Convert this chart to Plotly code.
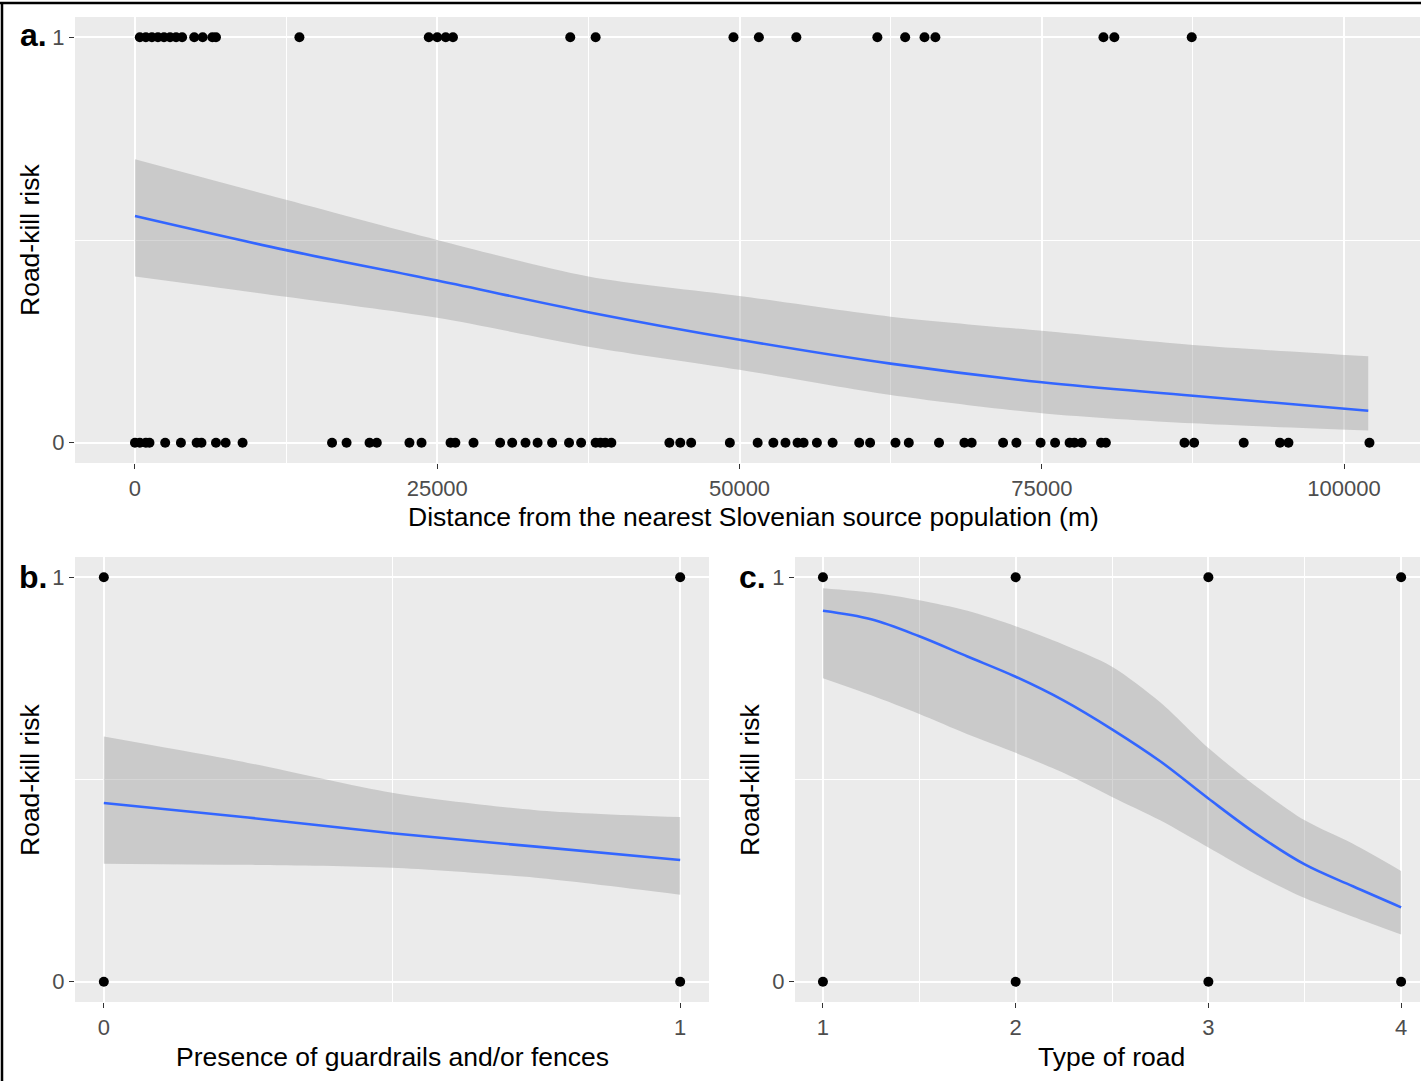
import plotly.graph_objects as go

W, H = 1421, 1081

# ---------------- data ----------------
# Panel a: observed points (distance in m)
a_dist_killed = [400, 900, 1400, 1900, 2400, 2900, 3400, 3900, 4900, 5600, 6400, 6700,
                 13600, 24300, 25000, 25700, 26300, 36000, 38100, 49500, 51600, 54700,
                 61400, 63700, 65300, 66200, 80100, 81000, 87400]
a_dist_notkilled = [0, 400, 900, 1200, 2500, 3800, 5100, 5500, 6700, 7500, 8900,
                    16300, 17500, 19400, 20000, 22700, 23700, 26100, 26500, 28000,
                    30200, 31200, 32300, 33300, 34500, 35900, 36900, 38100, 38500, 38900, 39400,
                    44200, 45100, 46000, 49200, 51500, 52800, 53800, 54800, 55300, 56400,
                    57700, 59900, 60800, 62900, 64000, 66500, 68600, 69200, 71800, 72900,
                    74900, 76100, 77300, 77700, 78300, 79900, 80300, 86800, 87600, 91700,
                    94700, 95400, 102100]
# Panel a: fitted curve and 95% band
a_x = [0, 12500, 25000, 37500, 50000, 62500, 75000, 87500, 102000]
a_fit = [0.559, 0.475, 0.400, 0.322, 0.254, 0.195, 0.149, 0.116, 0.079]
a_upper = [0.699, 0.599, 0.500, 0.410, 0.362, 0.311, 0.276, 0.241, 0.213]
a_lower = [0.410, 0.360, 0.308, 0.237, 0.180, 0.118, 0.073, 0.048, 0.030]

# Panel b: guardrails / fences (0/1)
b_pts_x = [0, 0, 1, 1]
b_pts_y = [0, 1, 0, 1]
b_x = [0, 0.25, 0.5, 0.75, 1]
b_fit = [0.442, 0.406, 0.367, 0.334, 0.301]
b_upper = [0.606, 0.541, 0.467, 0.424, 0.407]
b_lower = [0.292, 0.289, 0.282, 0.257, 0.215]

# Panel c: type of road
c_pts_x = [1, 2, 3, 4, 1, 2, 3, 4]
c_pts_y = [1, 1, 1, 1, 0, 0, 0, 0]
c_x = [1, 1.25, 1.5, 1.75, 2, 2.25, 2.5, 2.75, 3, 3.25, 3.5, 3.75, 4]
c_fit = [0.917, 0.896, 0.854, 0.804, 0.754, 0.695, 0.624, 0.545, 0.453, 0.365, 0.290, 0.236, 0.184]
c_upper = [0.973, 0.962, 0.943, 0.917, 0.879, 0.833, 0.779, 0.691, 0.578, 0.482, 0.399, 0.341, 0.274]
c_lower = [0.750, 0.708, 0.662, 0.612, 0.566, 0.516, 0.457, 0.399, 0.332, 0.265, 0.207, 0.161, 0.117]

a_xticks = [0, 25000, 50000, 75000, 100000]
a_xminor = [12500, 37500, 62500, 87500]
b_xticks = [0, 1]
b_xminor = [0.5]
c_xticks = [1, 2, 3, 4]
c_xminor = [1.5, 2.5, 3.5]
y_ticks = [0, 1]
y_minor = [0.5]

panel_labels = ["a.", "b.", "c."]
x_titles = ["Distance from the nearest Slovenian source population (m)",
            "Presence of guardrails and/or fences",
            "Type of road"]
y_title = "Road-kill risk"

# ---------------- styling ----------------
FONT = "Liberation Sans, Arial, sans-serif"
BAND = "rgba(153,153,153,0.4)"
LINE = "#3366FF"

def px_x(p):
    return p / W

def px_y(p):
    return 1 - p / H

fig = go.Figure()

def add_panel(fig, idx, pts_x, pts_y, cx, fit, up, lo):
    xa = "x" if idx == 1 else f"x{idx}"
    ya = "y" if idx == 1 else f"y{idx}"
    fig.add_trace(go.Scatter(x=pts_x, y=pts_y, mode="markers",
                             marker=dict(color="black", size=10),
                             xaxis=xa, yaxis=ya, showlegend=False, hoverinfo="skip"))
    fig.add_trace(go.Scatter(x=cx, y=lo, mode="lines",
                             line=dict(width=0, shape="spline", smoothing=0.8),
                             xaxis=xa, yaxis=ya, showlegend=False, hoverinfo="skip"))
    fig.add_trace(go.Scatter(x=cx, y=up, mode="lines", fill="tonexty", fillcolor=BAND,
                             line=dict(width=0, shape="spline", smoothing=0.8),
                             xaxis=xa, yaxis=ya, showlegend=False, hoverinfo="skip"))
    fig.add_trace(go.Scatter(x=cx, y=fit, mode="lines",
                             line=dict(color=LINE, width=2.6, shape="spline", smoothing=1.0),
                             xaxis=xa, yaxis=ya, showlegend=False, hoverinfo="skip"))

add_panel(fig, 1, a_dist_killed + a_dist_notkilled,
          [1] * len(a_dist_killed) + [0] * len(a_dist_notkilled),
          a_x, a_fit, a_upper, a_lower)
add_panel(fig, 2, b_pts_x, b_pts_y, b_x, b_fit, b_upper, b_lower)
add_panel(fig, 3, c_pts_x, c_pts_y, c_x, c_fit, c_upper, c_lower)

def xaxis_def(domain, rng, ticks, minor, anchor):
    return dict(domain=domain, range=rng, anchor=anchor,
                tickmode="array", tickvals=ticks, ticktext=[str(t) for t in ticks],
                showgrid=True, gridcolor="white", gridwidth=1.8,
                minor=dict(tickvals=minor, showgrid=True, gridcolor="white", gridwidth=0.9),
                zeroline=False, showline=False,
                ticks="outside", ticklen=5, tickwidth=1.1, tickcolor="#333333",
                ticklabelstandoff=1,
                tickfont=dict(family=FONT, size=22, color="#4D4D4D"))

def yaxis_def(domain, anchor):
    return dict(domain=domain, range=[-0.05, 1.05], anchor=anchor,
                tickmode="array", tickvals=y_ticks, ticktext=[str(t) for t in y_ticks],
                showgrid=True, gridcolor="white", gridwidth=1.8,
                minor=dict(tickvals=y_minor, showgrid=True, gridcolor="white", gridwidth=0.9),
                zeroline=False, showline=False,
                ticks="outside", ticklen=5, tickwidth=1.1, tickcolor="#333333",
                ticklabelstandoff=0,
                tickfont=dict(family=FONT, size=22, color="#4D4D4D"))

dom_a_x = [px_x(75), px_x(1420)]
dom_a_y = [px_y(463), px_y(17)]
dom_b_x = [px_x(75), px_x(709)]
dom_c_x = [px_x(795), px_x(1420)]
dom_bc_y = [px_y(1002), px_y(557)]

fig.update_layout(
    width=W, height=H,
    margin=dict(l=0, r=0, t=0, b=0),
    paper_bgcolor="white", plot_bgcolor="#EBEBEB",
    font=dict(family=FONT, color="black"),
    xaxis=xaxis_def(dom_a_x, [-4960, 106280], a_xticks, a_xminor, "y"),
    yaxis=yaxis_def(dom_a_y, "x"),
    xaxis2=xaxis_def(dom_b_x, [-0.05, 1.05], b_xticks, b_xminor, "y2"),
    yaxis2=yaxis_def(dom_bc_y, "x2"),
    xaxis3=xaxis_def(dom_c_x, [0.855, 4.098], c_xticks, c_xminor, "y3"),
    yaxis3=yaxis_def(dom_bc_y, "x3"),
)

ann = []
# panel labels
for lab, (px, py) in zip(panel_labels, [(33, 35), (33, 577), (752, 577)]):
    ann.append(dict(text=f"<b>{lab}</b>", x=px_x(px), y=px_y(py), xref="paper", yref="paper",
                    xanchor="center", yanchor="middle", showarrow=False,
                    font=dict(family=FONT, size=32, color="black")))
# x titles
for t, (px, py) in zip(x_titles, [(753, 517), (392, 1057), (1111, 1057)]):
    ann.append(dict(text=t, x=px_x(px), y=px_y(py), xref="paper", yref="paper",
                    xanchor="center", yanchor="middle", showarrow=False,
                    font=dict(family=FONT, size=26.5, color="black")))
# y titles
for (px, py) in [(30, 240), (30, 780), (750, 780)]:
    ann.append(dict(text=y_title, x=px_x(px), y=px_y(py), xref="paper", yref="paper",
                    xanchor="center", yanchor="middle", textangle=-90, showarrow=False,
                    font=dict(family=FONT, size=26.5, color="black")))
fig.update_layout(annotations=ann)

# outer frame (top and left edges visible)
fig.update_layout(shapes=[
    dict(type="line", xref="paper", yref="paper", x0=0, x1=1, y0=px_y(3), y1=px_y(3),
         line=dict(color="black", width=2.5)),
    dict(type="line", xref="paper", yref="paper", x0=px_x(2), x1=px_x(2), y0=0, y1=px_y(3),
         line=dict(color="black", width=2.5)),
])

fig.write_html("out.html", config={"displayModeBar": False},
               post_script="document.body.style.margin='0';document.body.style.padding='0';")
